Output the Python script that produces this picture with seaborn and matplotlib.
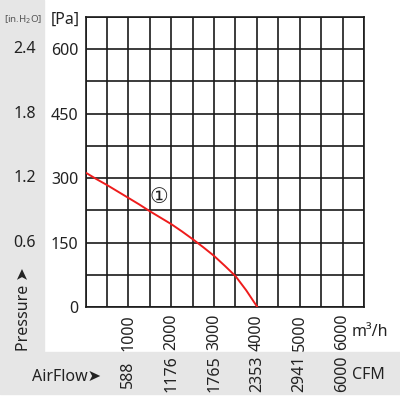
import matplotlib.pyplot as plt
import matplotlib.patches as mpatches
from matplotlib.ticker import MultipleLocator
import matplotlib.transforms as mtransforms
import seaborn as sns
import pandas as pd

# fan curve
flow_m3h = [0, 250, 500, 750, 1000, 1250, 1500, 1750, 2000, 2250, 2500, 2750,
            3000, 3250, 3500, 3750, 4010]
pressure_pa = [313, 298, 284, 269, 254, 239, 223, 208, 193, 176, 158, 139,
               119, 96, 72, 39, 0]

pa_ticks = [0, 150, 300, 450, 600]
inh2o_labels = ["0", "0.6", "1.2", "1.8", "2.4"]
m3h_ticks = [1000, 2000, 3000, 4000, 5000, 6000]
cfm_labels = ["588", "1176", "1765", "2353", "2941", "6000"]

sns.set_style("white")
plt.rcParams['font.family'] = ['Noto Sans', 'DejaVu Sans']

W, H = 400, 399
FS = 11.5
TXT = '#222222'
fig = plt.figure(figsize=(W / 100, H / 100), dpi=100)

# grey L-shaped frame
fig.patches.append(mpatches.Rectangle((0, 1 - 352 / H), 44 / W, 352 / H,
                                      transform=fig.transFigure, color='#e6e6e6', zorder=0))
fig.patches.append(mpatches.Rectangle((0, 1 - 394 / H), 1, 42 / H,
                                      transform=fig.transFigure, color='#e6e6e6', zorder=0))

ax = fig.add_axes([85.5 / W, 1 - 307 / H, 278.5 / W, 290 / H])
ax.set_facecolor('none')

df = pd.DataFrame({'flow': flow_m3h, 'pressure': pressure_pa})
sns.lineplot(data=df, x='flow', y='pressure', ax=ax, color='#ee1c1c', lw=1.4, zorder=3)

ax.set_xlim(0, 6500)
ax.set_ylim(0, 675)
ax.xaxis.set_minor_locator(MultipleLocator(500))
ax.yaxis.set_minor_locator(MultipleLocator(75))
ax.set_xticks(m3h_ticks)
ax.set_xticklabels([str(t) for t in m3h_ticks], rotation=90, fontsize=FS, color=TXT)
ax.set_yticks(pa_ticks)
ax.set_yticklabels([str(t) for t in pa_ticks], fontsize=FS, color=TXT)
ax.tick_params(which='both', length=0, pad=5)
ax.grid(which='both', color='#1a1a1a', lw=1.2)
for s in ax.spines.values():
    s.set_color('#1a1a1a')
    s.set_linewidth(1.2)
ax.set_xlabel('')
ax.set_ylabel('')

# curve marker
ax.text(1713, 255, '①', fontsize=15, ha='center', va='center', color=TXT,
        family=['DejaVu Sans'])

# left-hand in.H2O scale
trans_y = mtransforms.blended_transform_factory(fig.transFigure, ax.transData)
for v, lab in zip(pa_ticks[1:], inh2o_labels[1:]):
    fig.text(25 / W, v, lab, transform=trans_y, ha='center', va='center',
             fontsize=FS, color=TXT)
fig.text(23 / W, 1 - 20 / H, '[in.H$_2$O]', ha='center', va='center',
         fontsize=7, color='#555555', stretch='condensed')
fig.text(65 / W, 1 - 20 / H, '[Pa]', ha='center', va='center', fontsize=FS, color=TXT)
fig.text(24 / W, 1 - 309 / H, 'Pressure ➤', rotation=90, ha='center', va='center',
         fontsize=FS, color=TXT)

# CFM row
trans_x = mtransforms.blended_transform_factory(ax.transData, fig.transFigure)
for v, lab in zip(m3h_ticks, cfm_labels):
    fig.text(v, 1 - 374 / H, lab, transform=trans_x, rotation=90, ha='center', va='center',
             fontsize=FS, color=TXT)
fig.text(352 / W, 1 - 332 / H, 'm³/h', ha='left', va='center', fontsize=FS, color=TXT)
fig.text(352 / W, 1 - 375 / H, 'CFM', ha='left', va='center', fontsize=FS, color=TXT)
fig.text(32 / W, 1 - 377 / H, 'AirFlow➤', ha='left', va='center', fontsize=FS, color=TXT)

plt.savefig('out.png', dpi=100)
plt.close()
